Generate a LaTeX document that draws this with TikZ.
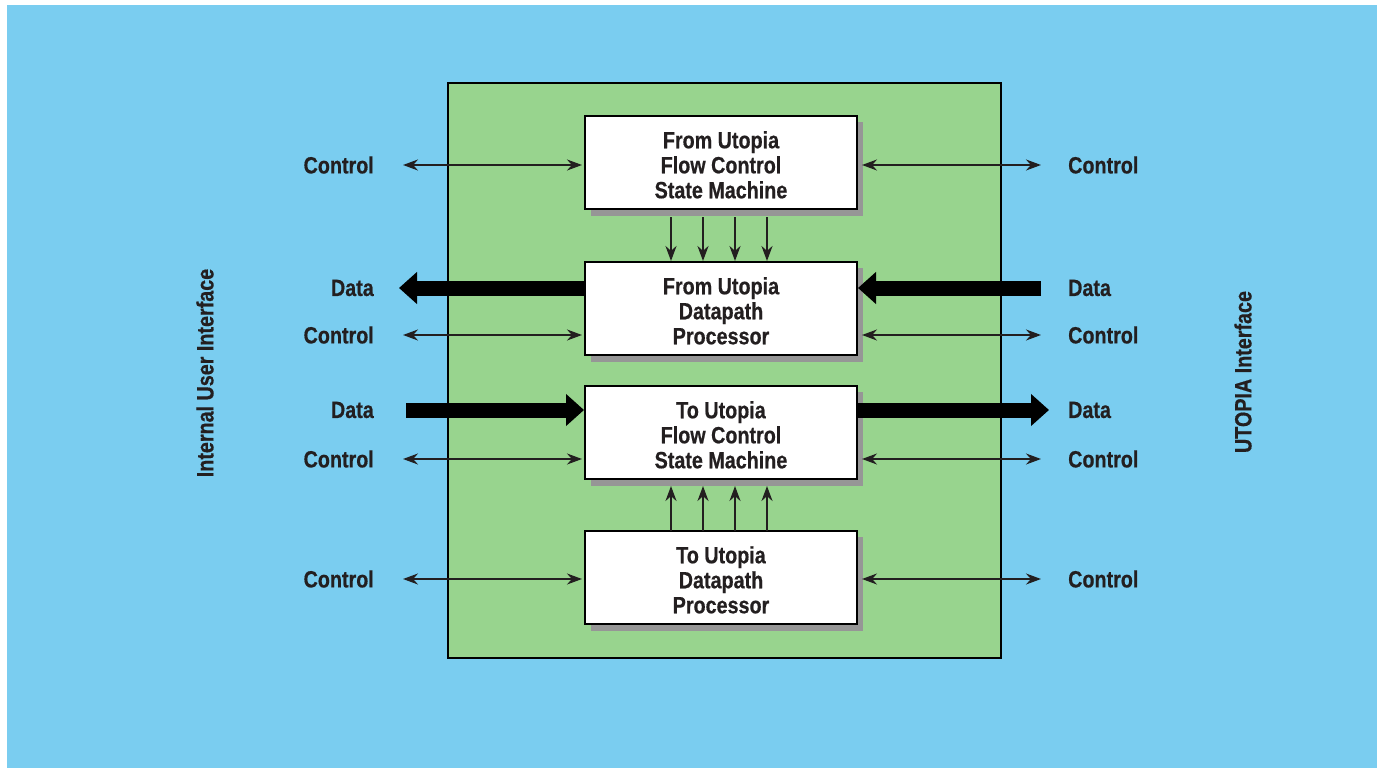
\documentclass[tikz,border=0pt]{standalone}
\usepackage{fontspec}
\setmainfont{Liberation Sans}[FakeStretch=0.84, BoldFeatures={FakeBold=0.5}]
\usetikzlibrary{arrows.meta}
\definecolor{bgblue}{RGB}{122,205,240}
\definecolor{bggreen}{RGB}{152,212,142}
\definecolor{ink}{RGB}{35,31,32}
\definecolor{shadowgray}{RGB}{150,150,150}
\newcommand{\blktext}[1]{\raisebox{-12pt}[0pt][0pt]{\begin{tabular}{@{}c@{}}#1\end{tabular}}}
\tikzset{
  lbl/.style={font=\fontsize{23.5}{25}\selectfont\bfseries, text=ink, inner sep=0pt},
  blk/.style={draw=black, line width=2pt, fill=white, minimum width=272pt, minimum height=93pt, inner sep=0pt,
     align=center, font=\fontsize{23.5}{25}\selectfont\bfseries, text=ink},
  ctrl/.style={draw=ink, line width=1.6pt, {Stealth[length=15pt,width=11pt]}-{Stealth[length=15pt,width=11pt]}},
  vert/.style={draw=ink, line width=2.2pt, -{Stealth[length=15pt,width=11pt]}},
  data/.style={draw=black, line width=15pt, -{Triangle[length=18pt,width=31pt]}},
  shadowbox/.style={fill=shadowgray},
}
\begin{document}
\begin{tikzpicture}[x=1pt,y=-1pt]
\useasboundingbox (0,0) rectangle (1377,768);
\fill[white] (0,0) rectangle (1377,768);
\fill[bgblue] (7,5) rectangle (1377,768);
\draw[fill=bggreen, line width=1.5pt] (448,83) rectangle (1001,658);
% shadows
\foreach \yt in {116,262,386,531}{
  \fill[shadowbox] (591,\yt+6) rectangle (863,\yt+100);
}
\node[blk] (b1) at (721,162.5) {\blktext{From Utopia\\Flow Control\\State Machine}};
\node[blk] (b2) at (721,308.5) {\blktext{From Utopia\\Datapath\\Processor}};
\node[blk] (b3) at (721,432.5) {\blktext{To Utopia\\Flow Control\\State Machine}};
\node[blk] (b4) at (721,577.5) {\blktext{To Utopia\\Datapath\\Processor}};
% left labels
\node[lbl, anchor=east] (lc1) at (374,165) {Control};
\node[lbl, anchor=east] (ld2) at (374,288) {Data};
\node[lbl, anchor=east] (lc2) at (374,335) {Control};
\node[lbl, anchor=east] (ld3) at (374,410) {Data};
\node[lbl, anchor=east] (lc3) at (374,459) {Control};
\node[lbl, anchor=east] (lc4) at (374,579) {Control};
% right labels
\node[lbl, anchor=west] (rc1) at (1068,165) {Control};
\node[lbl, anchor=west] (rd2) at (1068,288) {Data};
\node[lbl, anchor=west] (rc2) at (1068,335) {Control};
\node[lbl, anchor=west] (rd3) at (1068,410) {Data};
\node[lbl, anchor=west] (rc3) at (1068,459) {Control};
\node[lbl, anchor=west] (rc4) at (1068,579) {Control};
% side titles
\node[lbl, rotate=90] (lt) at (205,373) {Internal User Interface};
\node[lbl, rotate=90] (rt) at (1243,372) {UTOPIA Interface};
% control arrows
\draw[ctrl] (403,165) -- (582,165);
\draw[ctrl] (403,335) -- (582,335);
\draw[ctrl] (403,459) -- (582,459);
\draw[ctrl] (403,579) -- (582,579);
\draw[ctrl] (862,165) -- (1041,165);
\draw[ctrl] (862,335) -- (1041,335);
\draw[ctrl] (862,459) -- (1041,459);
\draw[ctrl] (862,579) -- (1041,579);
% data arrows
\draw[data] (b2.west |- 0,288) -- (399,288);
\draw[data] (1041,288) -- (b2.east |- 0,288);
\draw[data] (406,410) -- (b3.west |- 0,410);
\draw[data] (b3.east |- 0,410) -- (1049,410);
% vertical arrows
\foreach \x in {671,703,735,767}{
  \draw[vert] (\x,217) -- (\x,261);
  \draw[vert] (\x,531) -- (\x,486);
}
\end{tikzpicture}
\end{document}
